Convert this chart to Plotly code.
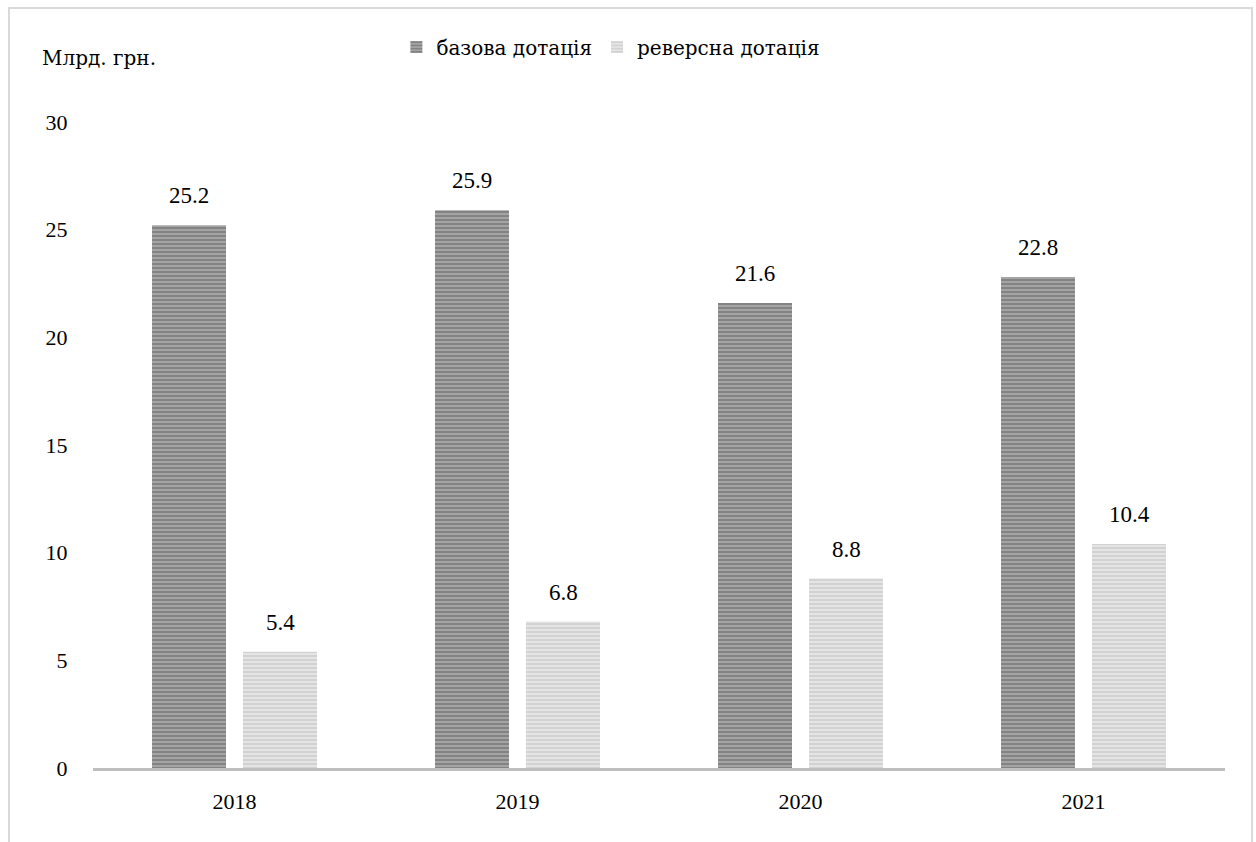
import plotly.graph_objects as go

years = ["2018", "2019", "2020", "2021"]
base = [25.2, 25.9, 21.6, 22.8]
reverse = [5.4, 6.8, 8.8, 10.4]
names = ["базова дотація", "реверсна дотація"]
yticks = [0, 5, 10, 15, 20, 25, 30]

FONT = "Liberation Serif"
CYR = "DejaVu Serif"

fig = go.Figure()
fig.add_trace(go.Bar(
    x=years, y=base, name=names[0],
    marker=dict(color="#a0a0a0", line=dict(width=0),
                pattern=dict(shape="-", fgcolor="#5a5a5a", bgcolor="#a4a4a4", size=4, solidity=0.45)),
))
fig.add_trace(go.Bar(
    x=years, y=reverse, name=names[1],
    marker=dict(color="#dcdcdc", line=dict(width=0),
                pattern=dict(shape="-", fgcolor="#bdbdbd", bgcolor="#e4e4e4", size=4, solidity=0.45)),
))

# category index positions on the category axis
for vals, shift in ((base, -45.5), (reverse, 45.5)):
    for i, v in enumerate(vals):
        fig.add_annotation(x=i, y=v, text=f"{v}", showarrow=False, xshift=shift,
                           yanchor="bottom", yshift=15,
                           font=dict(family=FONT, size=23, color="#000000"))

fig.add_annotation(xref="paper", yref="paper", x=-0.047, y=1.099, xanchor="left", yanchor="middle",
                   text="Млрд. грн.", showarrow=False,
                   font=dict(family=CYR, size=20, color="#000000"))

fig.add_shape(type="rect", xref="paper", yref="paper",
              x0=-0.0742, x1=1.0239, y0=-0.2, y1=1.1765,
              line=dict(color="#d9d9d9", width=2), fillcolor="rgba(0,0,0,0)", layer="below")

fig.update_layout(
    width=1256, height=842,
    margin=dict(l=93, r=31, t=122, b=74),
    paper_bgcolor="white", plot_bgcolor="white",
    barmode="group", bargap=0.357, bargroupgap=0.187,
    font=dict(family=FONT, size=20, color="#000000"),
    showlegend=True,
    legend=dict(orientation="h", x=0.268, xanchor="left", y=1.116, yanchor="middle",
                font=dict(family=CYR, size=20, color="#000000"),
                itemwidth=30, bgcolor="rgba(0,0,0,0)"),
    xaxis=dict(type="category", showgrid=False, showline=True, linecolor="#bfbfbf", linewidth=3,
               ticks="outside", ticklen=12, tickcolor="rgba(0,0,0,0)",
               tickfont=dict(family=FONT, size=22)),
    yaxis=dict(range=[0, 30], tickvals=yticks, showgrid=False, showline=False,
               zeroline=False, ticks="outside", ticklen=20, tickcolor="rgba(0,0,0,0)",
               tickfont=dict(family=FONT, size=22)),
)

fig.write_html("out.html")
